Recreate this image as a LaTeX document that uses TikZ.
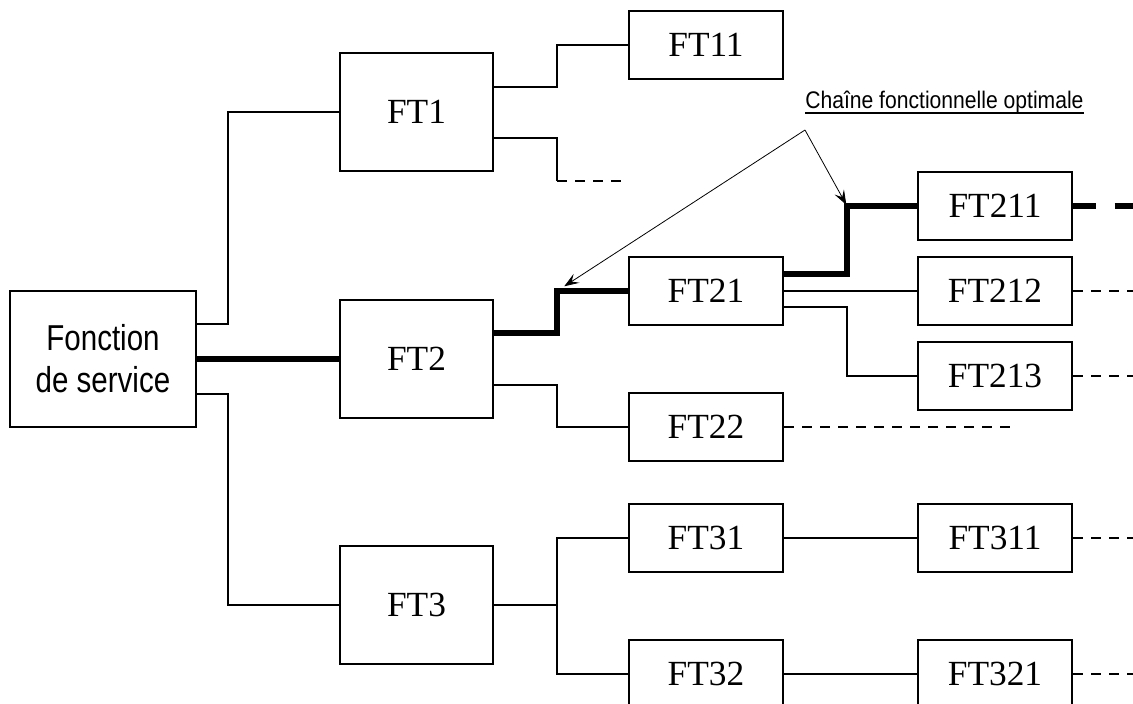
\documentclass[tikz,border=0pt]{standalone}
\usepackage{fontspec}
\setmainfont{Liberation Serif}
\newfontfamily\narrowsans[FakeStretch=0.82]{Liberation Sans}
\newfontfamily\labelsans[FakeStretch=0.88]{Liberation Sans}
\usetikzlibrary{arrows.meta,calc}
\begin{document}
\begin{tikzpicture}[x=0.75pt,y=-0.75pt,
  box/.style={draw, line width=1.8pt, minimum width=115.5pt, minimum height=51pt, inner sep=0pt, font=\fontsize{26.5}{30}\selectfont},
  bigbox/.style={box, minimum width=114.75pt, minimum height=88.5pt},
  link/.style={line width=1.8pt},
  optimal/.style={line width=4.8pt},
  cont/.style={line width=1.8pt, dash pattern=on 7.5pt off 6pt},
  optcont/.style={line width=4.8pt, dash pattern=on 17pt off 14pt},
  pointer/.style={line width=0.6pt, -{Stealth[length=11pt,width=8pt,inset=4.5pt]}}]
\clip (0,0) rectangle (1133,704);

% nodes
\node[box, minimum width=139.5pt, minimum height=102pt, align=center,
      font=\narrowsans\fontsize{27}{31.5}\selectfont] (fds) at (103,359) {Fonction\\de service};
\node[bigbox] (ft1) at (416.5,112) {FT1};
\node[bigbox] (ft2) at (416.5,359) {FT2};
\node[bigbox] (ft3) at (416.5,605) {FT3};
\node[box] (ft11) at (706,45) {FT11};
\node[box] (ft21) at (706,291) {FT21};
\node[box] (ft22) at (706,427) {FT22};
\node[box] (ft31) at (706,538) {FT31};
\node[box] (ft32) at (706,674) {FT32};
\node[box] (ft211) at (995,206) {FT211};
\node[box] (ft212) at (995,291) {FT212};
\node[box] (ft213) at (995,376) {FT213};
\node[box] (ft311) at (995,538) {FT311};
\node[box] (ft321) at (995,674) {FT321};

% helper coordinates
\coordinate (b1) at (228,0);
\coordinate (b2) at (557,0);
\coordinate (b3) at (847,0);
\coordinate (edge) at (1150,0);
\coordinate (e22) at (1017,0);
\coordinate (d1) at (557,181);
\coordinate (d1e) at (623,181);
\coordinate (c21) at (b2 |- ft21.west);
\coordinate (c211) at (b3 |- ft211.west);
\coordinate (src) at (805,130);

% level 1
\draw[link] ($(fds.east)+(0,-35)$) -| (b1 |- ft1.west) -- (ft1.west);
\draw[optimal] (fds.east) -- (ft2.west);
\draw[link] ($(fds.east)+(0,35)$) -| (b1 |- ft3.west) -- (ft3.west);

% FT1 branch
\draw[link] ($(ft1.east)+(0,-25)$) -| (b2 |- ft11.west) -- (ft11.west);
\draw[link] ($(ft1.east)+(0,26)$) -| (d1);
\draw[cont] (d1) -- (d1e);

% FT2 branch
\draw[optimal] ($(ft2.east)+(0,-26)$) -| (c21) -- (ft21.west);
\draw[link] ($(ft2.east)+(0,26)$) -| (b2 |- ft22.west) -- (ft22.west);
\draw[cont] (ft22.east) -- (ft22.east -| e22);

% FT21 branch
\draw[optimal] ($(ft21.east)+(0,-17)$) -| (c211) -- (ft211.west);
\draw[link] (ft21.east) -- (ft212.west);
\draw[link] ($(ft21.east)+(0,16)$) -| (b3 |- ft213.west) -- (ft213.west);
\draw[optcont] (ft211.east) -- (ft211.east -| edge);
\draw[cont] (ft212.east) -- (ft212.east -| edge);
\draw[cont] (ft213.east) -- (ft213.east -| edge);

% FT3 branch
\draw[link] (ft3.east) -- (ft3.east -| b2);
\draw[link] (ft31.west) -| (b2 |- ft32.west) -- (ft32.west);
\draw[link] (ft31.east) -- (ft311.west);
\draw[link] (ft32.east) -- (ft321.west);
\draw[cont] (ft311.east) -- (ft311.east -| edge);
\draw[cont] (ft321.east) -- (ft321.east -| edge);

% annotation
\node[font=\labelsans\fontsize{18}{22}\selectfont, inner sep=0pt, anchor=base west]
  (lbl) at (805,108) {Chaîne fonctionnelle optimale};
\draw[line width=0.9pt] ($(lbl.base west)+(0,5)$) -- ($(lbl.base east)+(0,5)$);
\draw[pointer, shorten >=1pt] (src) -- (c211);
\draw[pointer, shorten >=6.5pt] (src) -- (c21);
\end{tikzpicture}
\end{document}
